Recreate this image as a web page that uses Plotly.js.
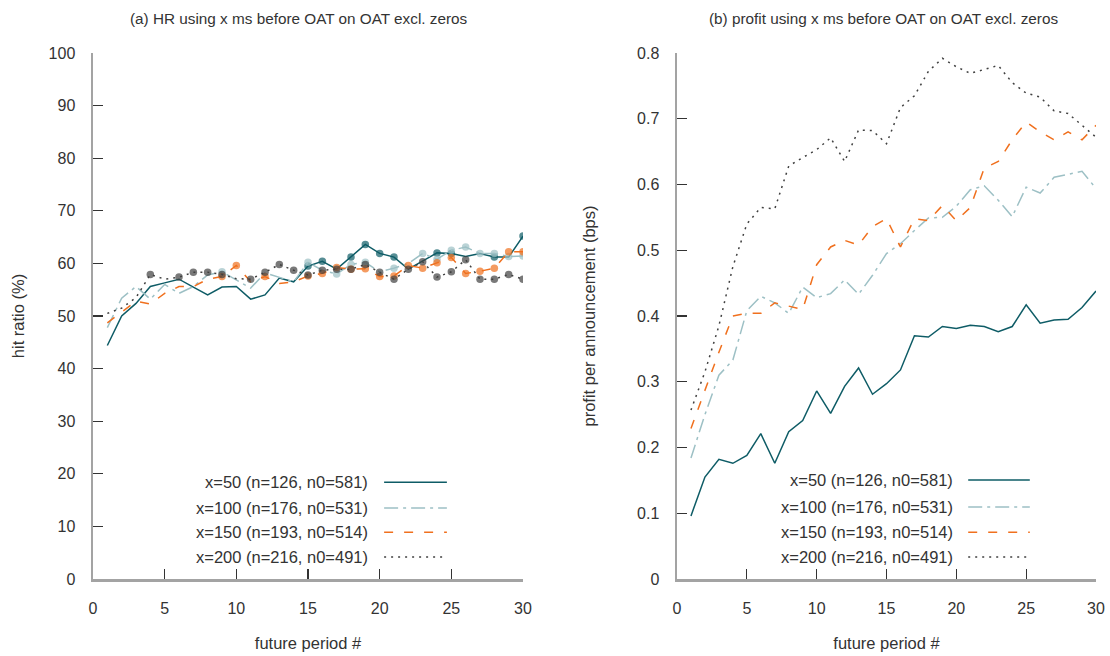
<!DOCTYPE html>
<html>
<head>
<meta charset="utf-8">
<script src="https://cdn.plot.ly/plotly-3.0.1.min.js"></script>
<style>html,body{margin:0;padding:0;background:#fff;}#chart{width:1110px;height:656px;}</style>
</head>
<body>
<div id="chart"></div>
<script>
// ---- data ----
const periods = [1,2,3,4,5,6,7,8,9,10,11,12,13,14,15,16,17,18,19,20,21,22,23,24,25,26,27,28,29,30];

const seriesNames = [
  "x=50 (n=126, n0=581)",
  "x=100 (n=176, n0=531)",
  "x=150 (n=193, n0=514)",
  "x=200 (n=216, n0=491)"
];

// (a) hit ratio (%)
const hr50  = [44.4,50.0,52.4,55.6,56.3,57.0,55.5,54.0,55.5,55.6,53.2,54.0,57.2,56.5,59.5,60.4,58.9,61.2,63.6,61.9,61.2,58.9,60.4,62.0,61.9,61.3,61.9,61.2,61.2,65.2];
const hr100 = [47.8,53.4,55.6,53.2,56.0,54.3,55.6,57.8,58.4,56.8,55.3,58.2,57.3,56.5,60.2,58.7,58.0,59.8,60.2,58.4,59.1,60.0,61.9,60.8,62.5,63.1,61.9,61.9,61.3,61.4];
const hr150 = [48.7,50.8,52.8,52.3,54.3,55.6,55.6,57.0,57.5,59.6,56.5,57.5,56.2,56.5,57.6,58.1,59.2,58.9,59.0,57.5,57.6,59.6,59.1,60.1,61.1,58.1,58.5,59.1,62.2,62.2];
const hr200 = [50.5,51.5,53.5,57.9,57.0,57.4,58.3,58.3,57.9,57.1,57.0,58.3,59.8,58.7,57.8,58.7,58.9,58.9,59.8,58.3,57.0,58.9,60.3,57.4,58.4,60.7,57.0,57.0,57.9,57.0];

// periods marked with a dot in (a)
const sig50  = [15,16,18,19,20,21,24,25,28,30];
const sig100 = [9,15,17,18,19,21,23,24,25,26,27,28,29,30];
const sig150 = [9,10,12,15,16,17,18,19,20,21,22,23,24,25,26,27,28,29,30];
const sig200 = [4,6,7,8,9,11,12,13,14,15,16,17,18,19,20,21,22,23,24,25,26,27,28,29,30];

// (b) profit per announcement (bps)
const pr50  = [0.096,0.155,0.182,0.176,0.188,0.221,0.176,0.224,0.241,0.286,0.252,0.293,0.321,0.281,0.297,0.318,0.370,0.368,0.384,0.381,0.386,0.384,0.376,0.384,0.417,0.389,0.394,0.395,0.413,0.438];
const pr100 = [0.184,0.250,0.310,0.333,0.408,0.430,0.420,0.404,0.444,0.428,0.434,0.455,0.433,0.462,0.495,0.510,0.530,0.549,0.550,0.567,0.592,0.598,0.576,0.551,0.596,0.587,0.611,0.616,0.620,0.594];
const pr150 = [0.229,0.288,0.345,0.400,0.404,0.404,0.420,0.415,0.410,0.478,0.505,0.515,0.508,0.536,0.548,0.505,0.548,0.545,0.568,0.545,0.565,0.625,0.635,0.668,0.695,0.680,0.668,0.680,0.668,0.690];
const pr200 = [0.257,0.315,0.385,0.475,0.540,0.565,0.563,0.628,0.641,0.653,0.671,0.635,0.683,0.682,0.662,0.717,0.735,0.772,0.792,0.779,0.769,0.775,0.781,0.755,0.739,0.733,0.712,0.708,0.690,0.672];

// ---- styles ----
const colors = ["#0e5c66", "#9dc0c5", "#f0701e", "#404040"];
const dashes = ["solid", "14px,5px,3px,5px", "9px,11px", "2px,5px"];
const FONT = "Liberation Sans, Arial, Helvetica, sans-serif";
const TXT = "#333333";

const hrSeries = [hr50, hr100, hr150, hr200];
const prSeries = [pr50, pr100, pr150, pr200];
const sigSeries = [sig50, sig100, sig150, sig200];

const traces = [];
hrSeries.forEach((ys, i) => {
  traces.push({
    x: periods, y: ys, type: "scatter", mode: "lines+markers",
    xaxis: "x", yaxis: "y", showlegend: false, name: seriesNames[i],
    line: {color: colors[i], width: 1.5, dash: dashes[i]},
    marker: {color: colors[i], size: periods.map(p => sigSeries[i].includes(p) ? 7.5 : 0), line: {width: 0}}
  });
});
prSeries.forEach((ys, i) => {
  traces.push({
    x: periods, y: ys, type: "scatter", mode: "lines",
    xaxis: "x2", yaxis: "y2", showlegend: false, name: seriesNames[i],
    line: {color: colors[i], width: 1.5, dash: dashes[i]}
  });
});

const axisCommon = {
  showgrid: false, zeroline: false, showline: true,
  linecolor: "#a3a3a3", linewidth: 2.5,
  ticks: "inside", ticklen: 10, tickwidth: 1.2, tickcolor: "#333",
  tickfont: {family: FONT, size: 16, color: TXT},
  mirror: false, automargin: false
};

// legend (drawn inside each panel, text left of the line sample)
const annotations = [];
const shapes = [];
const legendCfg = [
  {xr: "x domain", yr: "y domain", tx: 0.644, l0: 0.677, l1: 0.823, rows: [0.184, 0.135, 0.089, 0.042]},
  {xr: "x2 domain", yr: "y2 domain", tx: 0.663, l0: 0.695, l1: 0.842, rows: [0.188, 0.137, 0.089, 0.042]}
];
legendCfg.forEach(c => {
  seriesNames.forEach((nm, i) => {
    annotations.push({
      xref: c.xr, yref: c.yr, x: c.tx, y: c.rows[i], xanchor: "right", yanchor: "middle",
      text: nm, showarrow: false, font: {family: FONT, size: 16.5, color: TXT}
    });
    shapes.push({
      type: "line", xref: c.xr, yref: c.yr, x0: c.l0, x1: c.l1, y0: c.rows[i], y1: c.rows[i],
      line: {color: colors[i], width: 1.5, dash: dashes[i]}
    });
  });
});
annotations.push({
  xref: "paper", yref: "paper", x: 299/1110, y: 1, yshift: 35, xanchor: "center", yanchor: "middle",
  text: "(a) HR using x ms before OAT on OAT excl. zeros", showarrow: false,
  font: {family: FONT, size: 15.3, color: TXT}
});
annotations.push({
  xref: "paper", yref: "paper", x: 883/1110, y: 1, yshift: 35, xanchor: "center", yanchor: "middle",
  text: "(b) profit using x ms before OAT on OAT excl. zeros", showarrow: false,
  font: {family: FONT, size: 15.3, color: TXT}
});

const layout = {
  width: 1110, height: 656,
  margin: {l: 0, r: 0, t: 53, b: 77, pad: 0},
  paper_bgcolor: "#fff", plot_bgcolor: "#fff",
  showlegend: false,
  xaxis: Object.assign({}, axisCommon, {
    domain: [93/1110, 523/1110], range: [0, 30], dtick: 5, tick0: 0, anchor: "y",
    ticklabelstandoff: 13,
    title: {text: "future period #", font: {family: FONT, size: 16.5, color: TXT}, standoff: 22}
  }),
  yaxis: Object.assign({}, axisCommon, {
    domain: [0, 1], range: [0, 100], dtick: 10, tick0: 0, anchor: "x",
    ticklabelstandoff: 12,
    title: {text: "hit ratio (%)", font: {family: FONT, size: 16.5, color: TXT}, standoff: 20}
  }),
  xaxis2: Object.assign({}, axisCommon, {
    domain: [677/1110, 1096/1110], range: [0, 30], dtick: 5, tick0: 0, anchor: "y2",
    ticklabelstandoff: 13,
    title: {text: "future period #", font: {family: FONT, size: 16.5, color: TXT}, standoff: 22}
  }),
  yaxis2: Object.assign({}, axisCommon, {
    domain: [0, 1], range: [0, 0.8], dtick: 0.1, tick0: 0, anchor: "x2",
    ticklabelstandoff: 12,
    title: {text: "profit per announcement (bps)", font: {family: FONT, size: 16.5, color: TXT}, standoff: 38}
  }),
  annotations: annotations,
  shapes: shapes
};

Plotly.newPlot("chart", traces, layout, {displayModeBar: false, staticPlot: true});
</script>
</body>
</html>
